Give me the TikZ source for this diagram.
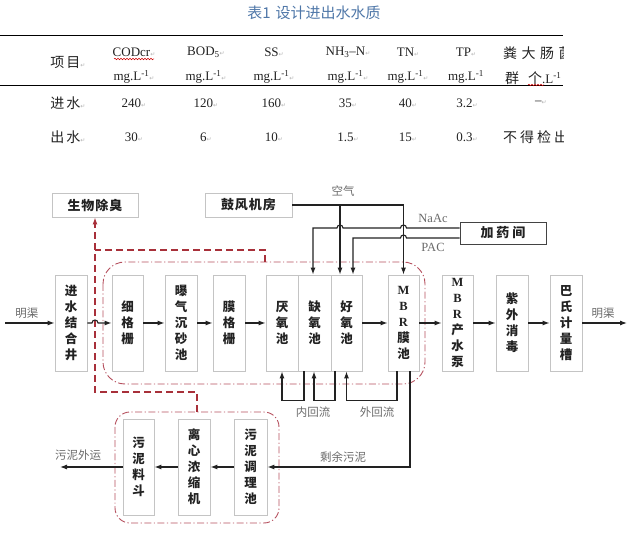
\documentclass[tikz,border=0pt]{standalone}
\usepackage{fontspec}
\setmainfont{Liberation Serif}
\newfontfamily\cjk{Noto Sans CJK SC}
\newfontfamily\symf{DejaVu Sans}
\usetikzlibrary{arrows.meta,decorations.pathmorphing}
\definecolor{boxline}{HTML}{C4C4C4}
\definecolor{redd}{HTML}{A8303A}
\definecolor{reddd}{HTML}{B5505E}
\definecolor{lbl}{HTML}{6A6A6A}
\definecolor{ttl}{HTML}{4F77A8}
\definecolor{txt}{HTML}{222222}
\newcommand\pmark{{\symf\fontsize{6}{6}\selectfont\textcolor{gray!60}{↵}}}
\newcommand\lat[1]{{\rmfamily\bfseries #1}}
\newcommand\ls{\hspace{4.5pt}}
\tikzset{
 box/.style={draw=boxline, line width=0.8pt, fill=white, inner sep=0pt, align=center, text=txt, font=\cjk\bfseries\fontsize{12.5}{16}\selectfont},
 mainbox/.style={box, minimum height=96pt},
 topbox/.style={box, minimum width=86pt, minimum height=24pt, font=\cjk\bfseries\fontsize{13}{14}\selectfont},
 flow/.style={draw=txt, line width=1.1pt, -{Latex[length=7pt,width=5pt]}},
 plainline/.style={draw=txt, line width=1.1pt},
 reddash/.style={draw=redd, line width=1.5pt, dash pattern=on 7pt off 4pt},
 group/.style={draw=reddd, line width=0.9pt, dash pattern=on 7pt off 2.5pt on 1.2pt off 2.5pt, rounded corners=22pt},
 lab/.style={text=lbl, font=\cjk\fontsize{11.5}{13}\selectfont, inner sep=0pt},
 labl/.style={text=lbl, font=\fontsize{12.5}{14}\selectfont, inner sep=0pt},
 tab/.style={text=txt, font=\fontsize{13}{14}\selectfont, inner sep=0pt},
 tabc/.style={text=txt, font=\cjk\fontsize{14}{16}\selectfont, inner sep=0pt},
 wavy/.style={draw=red!80!black, line width=0.5pt, decorate, decoration={snake, amplitude=0.8pt, segment length=3pt}},
}
\begin{document}
\begin{tikzpicture}[x=1pt,y=-1pt]
\useasboundingbox (0,0) rectangle (635,537);
% ---------------- table ----------------
\begin{scope}
\clip (0,0) rectangle (563,170);
\node[font=\cjk\fontsize{15}{17}\selectfont, text=ttl, inner sep=0pt] (title) at (314,13) {表1\hspace{5pt}设计进出水水质};
\draw[draw=black, line width=1pt] (0,36) -- (563,36);
\draw[draw=black, line width=0.9pt] (0,85) -- (563,85);
\node[tabc] (h0) at (68,62) {项\hspace{2pt}目\pmark};
\node[tab] (h1) at (134,52) {CODcr\pmark};
\node[tab] (u1) at (134,77) {mg.L\textsuperscript{-1}\pmark};
\node[tab] (h2) at (206,52) {BOD\textsubscript{5}\pmark};
\node[tab] (u2) at (206,77) {mg.L\textsuperscript{-1}\pmark};
\node[tab] (h3) at (274,52) {SS\pmark};
\node[tab] (u3) at (274,77) {mg.L\textsuperscript{-1}\pmark};
\node[tab] (h4) at (348,52) {NH\textsubscript{3}–N\pmark};
\node[tab] (u4) at (348,77) {mg.L\textsuperscript{-1}\pmark};
\node[tab] (h5) at (408,52) {TN\pmark};
\node[tab] (u5) at (408,77) {mg.L\textsuperscript{-1}\pmark};
\node[tab] (h6) at (466,52) {TP\pmark};
\node[tab] (u6) at (466,77) {mg.L\textsuperscript{-1}};
\node[tabc, anchor=west] (h7) at (503,53) {粪\ls 大\ls 肠\ls 菌};
\node[tabc, anchor=west] (u7) at (505,78) {群\hspace{9pt}个{\rmfamily\fontsize{13}{14}\selectfont .L\textsuperscript{-1}}};
\draw[wavy] (114,59) -- (154,59);
\draw[wavy] (528,85) -- (544,85);
\node[tabc] (r1) at (68,103) {进\hspace{2pt}水\pmark};
\node[tab] (a1) at (134,103) {240\pmark};
\node[tab] (a2) at (206,103) {120\pmark};
\node[tab] (a3) at (274,103) {160\pmark};
\node[tab] (a4) at (348,103) {35\pmark};
\node[tab] (a5) at (408,103) {40\pmark};
\node[tab] (a6) at (467,103) {3.2\pmark};
\node[tab] (a7) at (541,103) {–\pmark};
\node[tabc] (r2) at (68,137) {出\hspace{2pt}水\pmark};
\node[tab] (b1) at (134,137) {30\pmark};
\node[tab] (b2) at (206,137) {6\pmark};
\node[tab] (b3) at (274,137) {10\pmark};
\node[tab] (b4) at (348,137) {1.5\pmark};
\node[tab] (b5) at (408,137) {15\pmark};
\node[tab] (b6) at (467,137) {0.3\pmark};
\node[tabc, anchor=west] (b7) at (503,137) {不\hspace{3pt}得\hspace{3pt}检\hspace{3pt}出};
\end{scope}
% ---------------- groups ----------------
\draw[group] (103,262) rectangle (425,384);
\draw[group, rounded corners=15pt] (115,412) rectangle (279,523);
% ---------------- boxes ----------------
\node[topbox] (swcc) at (95,205) {生\hspace{1pt}物\hspace{1pt}除\hspace{1pt}臭};
\node[topbox, minimum width=87pt] (gfjf) at (248.5,205) {鼓\hspace{1pt}风\hspace{1pt}机\hspace{1pt}房};
\node[topbox, minimum height=22pt, draw=txt!85, line width=0.9pt] (jyj) at (503,233) {加\hspace{3pt}药\hspace{3pt}间};
\node[mainbox,minimum width=32pt] (jsjh) at (71,323) {进\\水\\结\\合\\井};
\node[mainbox,minimum width=31pt] (xgs) at (127.5,323) {细\\格\\栅};
\node[mainbox,minimum width=32pt] (pq) at (181,323) {曝\\气\\沉\\砂\\池};
\node[mainbox,minimum width=32pt] (mgs) at (229,323) {膜\\格\\栅};
\node[mainbox,minimum width=32pt] (yy) at (282,323) {厌\\氧\\池};
\node[mainbox,minimum width=33pt] (qy) at (314.5,323) {缺\\氧\\池};
\node[mainbox,minimum width=31pt] (hy) at (346.5,323) {好\\氧\\池};
\node[mainbox,minimum width=31pt] (mbr) at (403.5,323) {\lat{M}\\\lat{B}\\\lat{R}\\膜\\池};
\node[mainbox,minimum width=31pt] (cs) at (457.5,323) {\lat{M}\\\lat{B}\\\lat{R}\\产\\水\\泵};
\node[mainbox,minimum width=32pt] (zw) at (512,323) {紫\\外\\消\\毒};
\node[mainbox,minimum width=32pt] (bs) at (566,323) {巴\\氏\\计\\量\\槽};
\node[mainbox,minimum width=31pt] (wlld) at (138.5,467) {污\\泥\\料\\斗};
\node[mainbox,minimum width=32pt] (lxns) at (194,467) {离\\心\\浓\\缩\\机};
\node[mainbox,minimum width=33pt] (wltl) at (250.5,467) {污\\泥\\调\\理\\池};
% ---------------- red dashed (odour) ----------------
\coordinate (rd1) at (197,412);
\coordinate (rd2) at (265,262);
\draw[reddash, -{Latex[length=7pt,width=5pt]}] (rd1) -- (197,392) -- (swcc.south |- 0,392) -- (swcc.south);
\draw[reddash] (rd2) -- (265,250) -- (95,250);
% ---------------- main flow ----------------
\coordinate (inp) at (5,323);
\coordinate (outp) at (627,323);
\draw[flow] (inp) -- (jsjh.west);
\draw[flow] (jsjh.east) -- (92,323) arc[start angle=180,end angle=0,radius=3pt] -- (xgs.west);
\draw[flow] (xgs) -- (pq);
\draw[flow] (pq) -- (mgs);
\draw[flow] (mgs) -- (yy);
\draw[flow] (hy) -- (mbr);
\draw[flow] (mbr) -- (cs);
\draw[flow] (cs) -- (zw);
\draw[flow] (zw) -- (bs);
\draw[flow] (bs.east) -- (outp);
\node[lab] (l1) at (27,313) {明渠};
\node[lab] (l2) at (603,313) {明渠};
% ---------------- air ----------------
\coordinate (air1) at (340,205);
\coordinate (air2) at (403.5,205);
\draw[plainline] (gfjf.east) -- (air2);
\draw[flow] (air1) -- (air1 |- hy.north);
\draw[flow] (air2) -- (mbr.north);
\node[lab] (l3) at (343,191) {空气};
% ---------------- chemicals ----------------
\coordinate (na) at ([yshift=5pt]jyj.west);
\coordinate (na2) at (313,228);
\draw[flow] (na) -- (406.5,228) arc[start angle=0,end angle=180,radius=3pt] -- (343,228) arc[start angle=0,end angle=180,radius=3pt] -- (na2) -- (na2 |- qy.north);
\coordinate (pac) at ([yshift=-5pt]jyj.west);
\coordinate (pac2) at (353,238);
\draw[flow] (pac) -- (406.5,238) arc[start angle=0,end angle=180,radius=3pt] -- (pac2) -- (pac2 |- hy.north);
\node[labl] (l4) at (433,218) {NaAc};
\node[labl] (l5) at (433,247) {PAC};
% ---------------- returns ----------------
\draw[flow] ([xshift=-10.5pt]qy.south) -- ++(0,29) -| (yy.south);
\draw[flow] ([xshift=-11.5pt]hy.south) -- ++(0,29) -| ([xshift=-0.5pt]qy.south);
\draw[flow] ([xshift=-6.5pt]mbr.south) -- ++(0,29) -| (hy.south);
\draw[flow] ([xshift=6.5pt]mbr.south) |- (wltl.east);
\node[lab] (l6) at (313,412) {内回流};
\node[lab] (l7) at (377,412) {外回流};
\node[lab] (l8) at (343,457) {剩余污泥};
% ---------------- sludge ----------------
\coordinate (sout) at (60,467);
\draw[flow] (wltl) -- (lxns);
\draw[flow] (lxns) -- (wlld);
\draw[flow] (wlld.west) -- (sout);
\node[lab] (l9) at (78,455) {污泥外运};
\end{tikzpicture}
\end{document}
